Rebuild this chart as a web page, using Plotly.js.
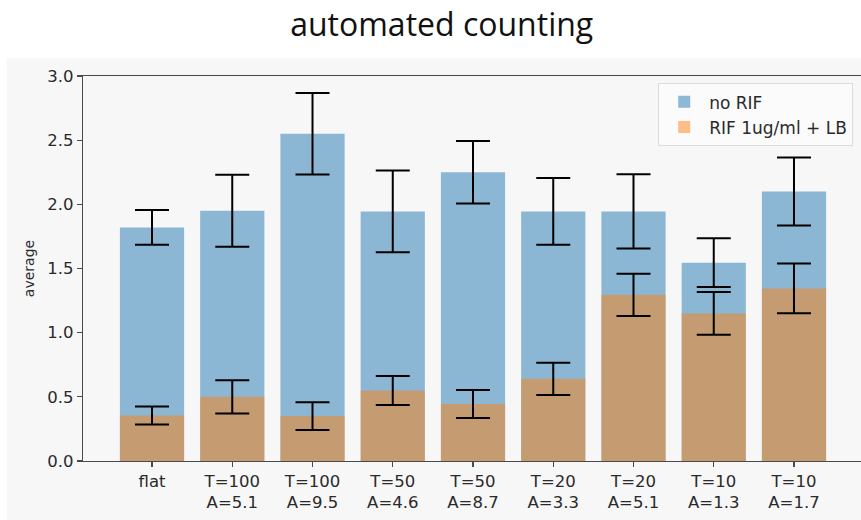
<!DOCTYPE html>
<html>
<head>
<meta charset="utf-8">
<script src="https://cdn.plot.ly/plotly-3.0.1.min.js"></script>
<style>html,body{margin:0;padding:0;background:#fff;}#chart{width:861px;height:520px;}</style>
</head>
<body>
<div id="chart"></div>
<script>
var categories = ["flat", "T=100<br>A=5.1", "T=100<br>A=9.5", "T=50<br>A=4.6", "T=50<br>A=8.7",
                  "T=20<br>A=3.3", "T=20<br>A=5.1", "T=10<br>A=1.3", "T=10<br>A=1.7"];
var noRif = [1.82, 1.95, 2.55, 1.945, 2.25, 1.945, 1.945, 1.545, 2.10];
var noRifErr = [0.135, 0.28, 0.318, 0.318, 0.243, 0.26, 0.29, 0.19, 0.265];
var rif = [0.355, 0.50, 0.35, 0.55, 0.445, 0.64, 1.295, 1.15, 1.345];
var rifErr = [0.07, 0.13, 0.108, 0.113, 0.109, 0.125, 0.165, 0.167, 0.193];
var yTicks = [0, 0.5, 1.0, 1.5, 2.0, 2.5, 3.0];

var tickFont = {family: "DejaVu Sans", size: 16.5, color: "#2a2a2a"};
var errStyle = function (arr) {
  return {type: "data", array: arr, visible: true, color: "#000000", thickness: 2, width: 17};
};

var traces = [
  {type: "bar", name: "no RIF", x: categories, y: noRif, width: 0.8,
   marker: {color: "rgba(31,119,180,0.5)", line: {width: 0}},
   error_y: errStyle(noRifErr)},
  {type: "bar", name: "RIF 1ug/ml + LB", x: categories, y: rif, width: 0.8,
   marker: {color: "rgba(255,127,14,0.5)", line: {width: 0}},
   error_y: errStyle(rifErr)}
];

var layout = {
  width: 861, height: 520,
  margin: {l: 83, r: 0, t: 76, b: 59, pad: 0},
  paper_bgcolor: "#ffffff",
  plot_bgcolor: "#f7f7f7",
  barmode: "overlay",
  showlegend: true,
  title: {text: "automated counting", font: {family: "Open Sans", size: 32, color: "#111111"},
          x: 0.513, xanchor: "center", xref: "container", y: 0.952, yanchor: "middle"},
  xaxis: {type: "category", range: [-0.86, 8.835], showgrid: false, zeroline: false,
          showline: true, linecolor: "#4a4a4a", linewidth: 1.2, mirror: true,
          ticks: "outside", ticklen: 5, tickwidth: 1.2, tickcolor: "#4a4a4a",
          tickfont: tickFont, fixedrange: true},
  yaxis: {range: [0, 3.0], tickvals: yTicks, tickformat: ".1f", showgrid: false, zeroline: false,
          showline: true, linecolor: "#4a4a4a", linewidth: 1.2, mirror: false,
          ticks: "outside", ticklen: 5, tickwidth: 1.2, tickcolor: "#4a4a4a",
          tickfont: tickFont, automargin: false,
          title: {text: "average", font: {family: "DejaVu Sans", size: 14, color: "#2a2a2a"}, standoff: 9}},
  legend: {x: 0.99, xanchor: "right", y: 0.981, yanchor: "top",
           bgcolor: "rgba(252,252,252,0.85)", bordercolor: "#dcdcdc", borderwidth: 1,
           font: {family: "DejaVu Sans", size: 17, color: "#2a2a2a"}, traceorder: "normal",
           tracegroupgap: 4, itemwidth: 40},
  shapes: [{type: "rect", xref: "paper", yref: "paper", layer: "below",
            x0: -0.098, x1: 1.01, y0: -0.16, y1: 1.046,
            fillcolor: "#f7f7f7", line: {width: 0}}]
};

Plotly.newPlot("chart", traces, layout, {displayModeBar: false, staticPlot: true});
</script>
</body>
</html>
